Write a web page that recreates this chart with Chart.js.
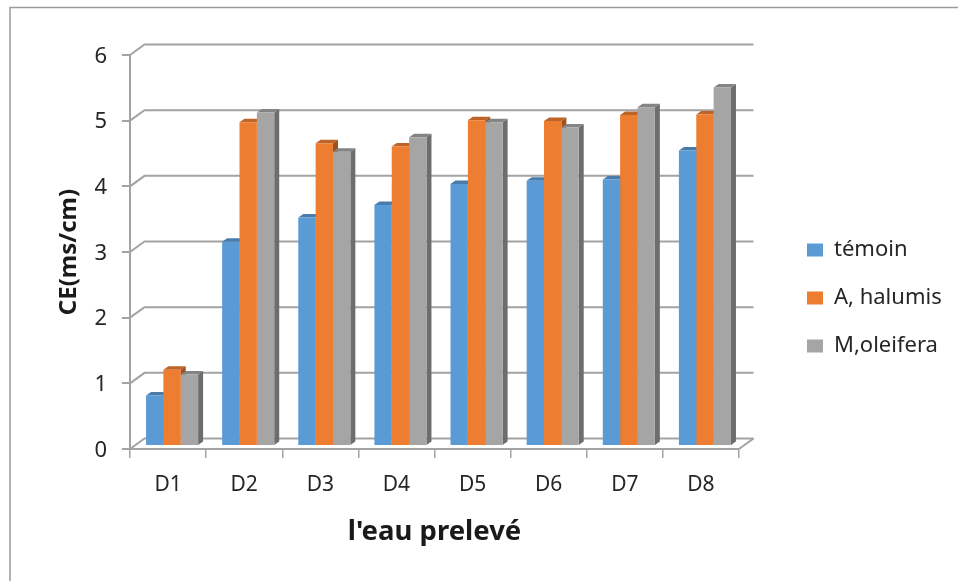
<!DOCTYPE html>
<html>
<head>
<meta charset="utf-8">
<title>CE</title>
<script src="https://cdn.jsdelivr.net/npm/chart.js@4"></script>
<style>
    html, body { margin: 0; padding: 0; background: #fff; overflow: hidden; }
    #wrap { width: 958px; height: 581px; }
</style>
</head>
<body>
<div id="wrap"><canvas id="myChart"></canvas></div>
<script>
const categories = ['D1', 'D2', 'D3', 'D4', 'D5', 'D6', 'D7', 'D8'];
const temoin = [0.77, 3.11, 3.48, 3.67, 3.99, 4.04, 4.06, 4.50];
const halumis = [1.16, 4.93, 4.61, 4.56, 4.96, 4.95, 5.04, 5.05];
const oleifera = [1.09, 5.08, 4.48, 4.70, 4.93, 4.85, 5.16, 5.46];
const yTicks = [0, 1, 2, 3, 4, 5, 6];

const axisGrey = '#a3a3a3';
const depth = { x: 14.5, y: 10.5 };   // back wall offset
const bar3d = { x: 4, y: 3, sideX: 5, sideY: 3.5 };  // bars stand a bit behind the axis

// shade helper for the top and side faces
function shade(hex, f) {
    const n = parseInt(hex.slice(1), 16);
    const c = [n >> 16, (n >> 8) & 255, n & 255].map(v => Math.round(v * f));
    return 'rgb(' + c.join(',') + ')';
}

const walls = {
    id: 'walls',
    afterLayout(chart) {
        // legend sits in its own spot right of the plot
        const lg = chart.legend;
        const pad = lg.options.labels.padding;
        const h = lg.bottom - lg.top;
        lg.left = 807 - pad;
        lg.right = lg.left + 300;
        lg.top = 298 - h / 2;
        lg.bottom = lg.top + h;
    },
    beforeDraw(chart) {
        const ctx = chart.ctx;
        ctx.save();
        ctx.fillStyle = '#fff';
        ctx.fillRect(0, 0, chart.width, chart.height);
        ctx.strokeStyle = '#9a9a9a';
        ctx.lineWidth = 1.5;
        ctx.beginPath();
        ctx.moveTo(10, 581);
        ctx.lineTo(10, 7.5);
        ctx.lineTo(958, 7.5);
        ctx.stroke();
        ctx.restore();
    },
    beforeDatasetsDraw(chart) {
        const ctx = chart.ctx;
        const y = chart.scales.y;
        const a = chart.chartArea;
        ctx.save();
        ctx.strokeStyle = axisGrey;
        ctx.lineWidth = 2;
        yTicks.forEach(t => {
            const py = y.getPixelForValue(t);
            ctx.beginPath();
            ctx.moveTo(a.left, py);
            ctx.lineTo(a.left + depth.x, py - depth.y);
            ctx.lineTo(a.right + depth.x, py - depth.y);
            ctx.stroke();
        });
        // floor, right edge
        const py0 = y.getPixelForValue(0);
        ctx.beginPath();
        ctx.moveTo(a.right, py0);
        ctx.lineTo(a.right + depth.x, py0 - depth.y);
        ctx.stroke();
        ctx.restore();

        // bar top and side faces, then chart.js paints the fronts over them
        ctx.save();
        ctx.translate(bar3d.x, -bar3d.y);
        chart.data.datasets.forEach((ds, i) => {
            chart.getDatasetMeta(i).data.forEach(bar => {
                const p = bar.getProps(['x', 'y', 'base', 'width']);
                const l = p.x - p.width / 2;
                const r = p.x + p.width / 2;
                ctx.fillStyle = shade(ds.backgroundColor, 0.66);
                ctx.beginPath();
                ctx.moveTo(r, p.base);
                ctx.lineTo(r + bar3d.sideX, p.base - bar3d.sideY);
                ctx.lineTo(r + bar3d.sideX, p.y - bar3d.sideY);
                ctx.lineTo(r, p.y);
                ctx.closePath();
                ctx.fill();
                ctx.fillStyle = shade(ds.backgroundColor, 0.8);
                ctx.beginPath();
                ctx.moveTo(l, p.y);
                ctx.lineTo(l + bar3d.sideX, p.y - bar3d.sideY);
                ctx.lineTo(r + bar3d.sideX, p.y - bar3d.sideY);
                ctx.lineTo(r, p.y);
                ctx.closePath();
                ctx.fill();
            });
        });
        ctx.restore();
        // shift for the fronts
        ctx.save();
        ctx.translate(bar3d.x, -bar3d.y);
    },
    afterDatasetsDraw(chart) {
        chart.ctx.restore();
    }
};

const ctx = document.getElementById('myChart').getContext('2d');
new Chart(ctx, {
    type: 'bar',
    data: {
        labels: categories,
        datasets: [
            { label: 'témoin', data: temoin, backgroundColor: '#5B9BD5' },
            { label: 'A, halumis', data: halumis, backgroundColor: '#ED7D31' },
            { label: 'M,oleifera', data: oleifera, backgroundColor: '#A5A5A5' }
        ]
    },
    plugins: [walls],
    options: {
        responsive: true,
        maintainAspectRatio: false,
        animation: false,
        layout: { padding: { left: 0, top: 55, right: 219, bottom: 0 } },
        datasets: { bar: { categoryPercentage: 0.684, barPercentage: 1 } },
        plugins: {
            tooltip: { enabled: false },
            legend: {
                position: 'chartArea',
                labels: {
                    boxWidth: 16,
                    boxHeight: 13,
                    padding: 26,
                    color: '#262626',
                    font: { family: 'Noto Sans', size: 22 }
                }
            }
        },
        scales: {
            x: {
                afterFit(scale) { scale.height = 132; },
                grid: { drawOnChartArea: false, tickColor: axisGrey, tickLength: 9, lineWidth: 1.5 },
                border: { color: axisGrey, width: 2 },
                ticks: { color: '#262626', padding: 14, font: { family: 'Noto Sans', size: 21 }, maxRotation: 0 },
                title: {
                    display: true,
                    text: "l'eau prelevé",
                    color: '#1a1a1a',
                    padding: { top: 0, bottom: 32 },
                    font: { family: 'Noto Sans', size: 27.5, weight: 'bold' }
                }
            },
            y: {
                min: 0,
                max: 6,
                afterFit(scale) { scale.width = 130; },
                grid: { drawOnChartArea: false, tickColor: axisGrey, tickLength: 8, lineWidth: 2 },
                border: { color: axisGrey, width: 2 },
                ticks: { color: '#262626', padding: 15, stepSize: 1, labelOffset: 1.5, font: { family: 'Noto Sans', size: 22 } },
                title: {
                    display: true,
                    text: 'CE(ms/cm)',
                    color: '#1a1a1a',
                    padding: { top: 55, bottom: 0 },
                    font: { family: 'Noto Sans', size: 24, weight: 'bold' }
                }
            }
        }
    }
});
</script>
</body>
</html>
